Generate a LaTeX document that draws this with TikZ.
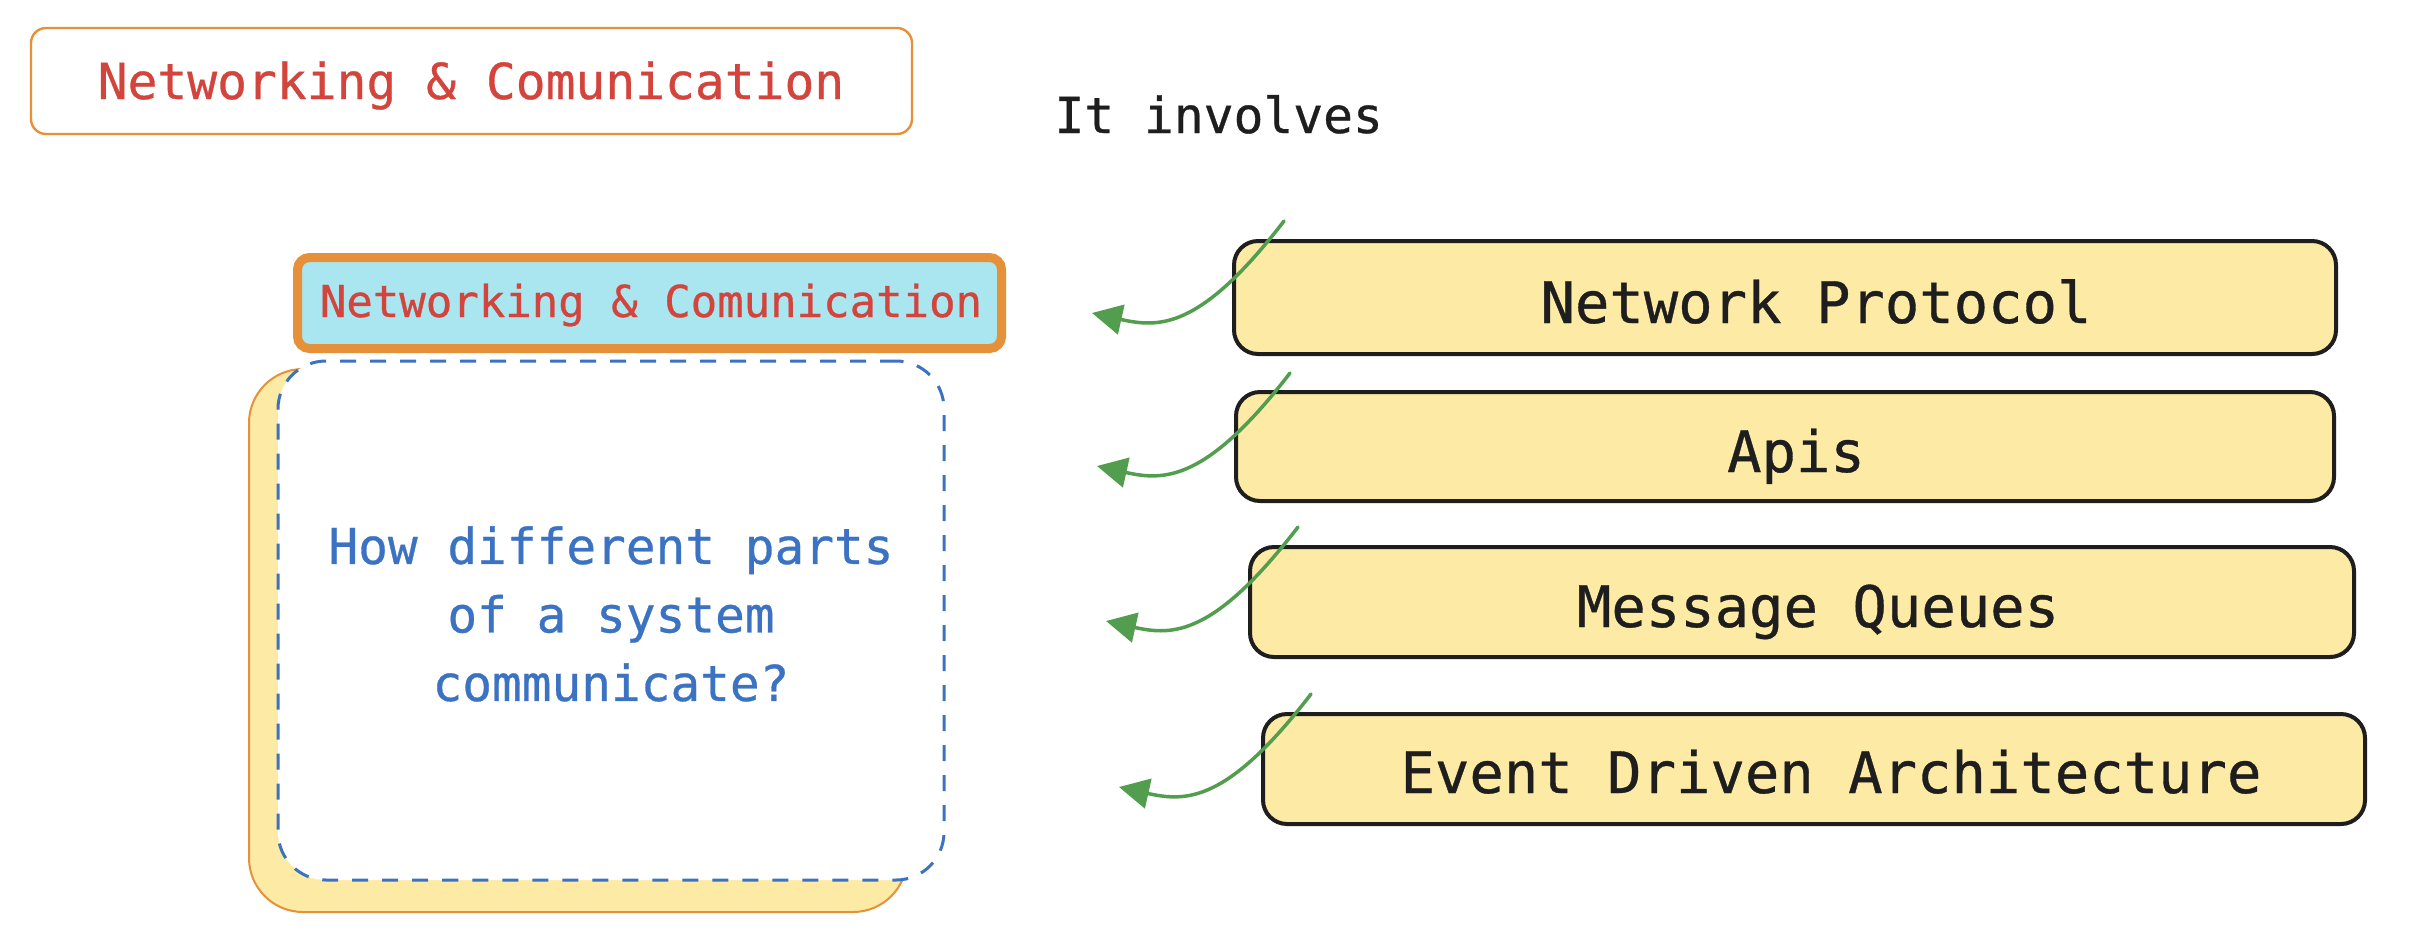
\documentclass[tikz,border=0pt]{standalone}
\usepackage{fontspec}
\setmonofont{DejaVu Sans Mono}[FakeBold=0.6]
\usetikzlibrary{arrows.meta}
\definecolor{exred}{HTML}{D2443C}
\definecolor{exorange}{HTML}{E6913A}
\definecolor{excyan}{HTML}{A9E6F0}
\definecolor{exblue}{HTML}{3C72C2}
\definecolor{exgreen}{HTML}{529D4E}
\definecolor{exyellow}{HTML}{FCEAA5}
\definecolor{exblack}{HTML}{1E1E1E}
\tikzset{
  titlebox/.style={draw=exorange, line width=1.2pt, fill=white, rounded corners=7.5pt,
    minimum width=440.5pt, minimum height=53pt, inner sep=0pt, outer sep=0pt},
  headbox/.style={draw=exorange, line width=4.5pt, fill=excyan, rounded corners=6pt,
    minimum width=352pt, minimum height=45.5pt, inner sep=0pt, outer sep=0pt},
  shadowbox/.style={draw=exorange, line width=1pt, fill=exyellow, rounded corners=27pt,
    minimum width=329pt, minimum height=271.5pt, inner sep=0pt, outer sep=0pt},
  dashbox/.style={draw=exblue, line width=1.5pt, dash pattern=on 8pt off 7pt, fill=white,
    rounded corners=24pt, minimum width=333pt, minimum height=259.5pt, inner sep=0pt, outer sep=0pt},
  itembox/.style={draw=exblack, line width=2pt, fill=exyellow, rounded corners=12pt,
    minimum height=55pt, inner sep=0pt, outer sep=0pt},
  redtext/.style={text=exred, inner sep=0pt, anchor=base},
  itemtext/.style={text=exblack, inner sep=0pt, anchor=base, font=\fontsize{28.6}{34}\selectfont\ttfamily},
  curvearrow/.style={draw=exgreen, line width=1.75pt, line cap=round, line join=round,
    -{Triangle[length=15pt,width=15pt]}},
}
\begin{document}
\begin{tikzpicture}[x=0.5pt,y=-0.5pt]
\useasboundingbox (0,0) rectangle (2412,938);
\fill[white] (0,0) rectangle (2412,938);

% title
\node[titlebox] (title) at (471.5,81) {};
\node[redtext, font=\fontsize{24.8}{30}\selectfont\ttfamily] (titletext) at (471,99) {Networking \& Comunication};

% it involves
\node[text=exblack, inner sep=0pt, anchor=base west, font=\fontsize{24.8}{30}\selectfont\ttfamily] (involves) at (1054,133) {It involves};

% left group
\node[headbox] (head) at (649.5,303) {};
\node[redtext, font=\fontsize{22}{26}\selectfont\ttfamily] (headtext) at (651,317) {Networking \& Comunication};
\node[shadowbox] (shadow) at (578,640.5) {};
\node[dashbox] (dash) at (611,620.5) {};
\node[text=exblue, inner sep=0pt, align=center, font=\fontsize{24.7}{34.25}\selectfont\ttfamily] (question) at (611,614)
  {How different parts\\of a system\\communicate?};

% right items
\node[itembox, minimum width=551pt, minimum height=56.5pt] (b1) at (1785,297.5) {};
\node[itemtext] (t1) at (1816,323) {Network Protocol};
\node[itembox, minimum width=549pt, minimum height=54.5pt] (b2) at (1785,446.5) {};
\node[itemtext] (t2) at (1796,472) {Apis};
\node[itembox, minimum width=552pt] (b3) at (1802,602) {};
\node[itemtext] (t3) at (1818,627) {Message Queues};
\node[itembox, minimum width=551pt] (b4) at (1814,769) {};
\node[itemtext] (t4) at (1831,793) {Event Driven Architecture};

% arrows
\coordinate (s1) at (1284,221); \coordinate (e1) at (1092,313);
\coordinate (s2) at (1290,373); \coordinate (e2) at (1097,466);
\coordinate (s3) at (1298,527); \coordinate (e3) at (1106,621);
\coordinate (s4) at (1311,694); \coordinate (e4) at (1119,787);
\foreach \i in {1,2,3,4}{
  \draw[curvearrow] (s\i) .. controls +(-84,109) and +(67,15) .. (e\i);
}
\end{tikzpicture}
\end{document}
